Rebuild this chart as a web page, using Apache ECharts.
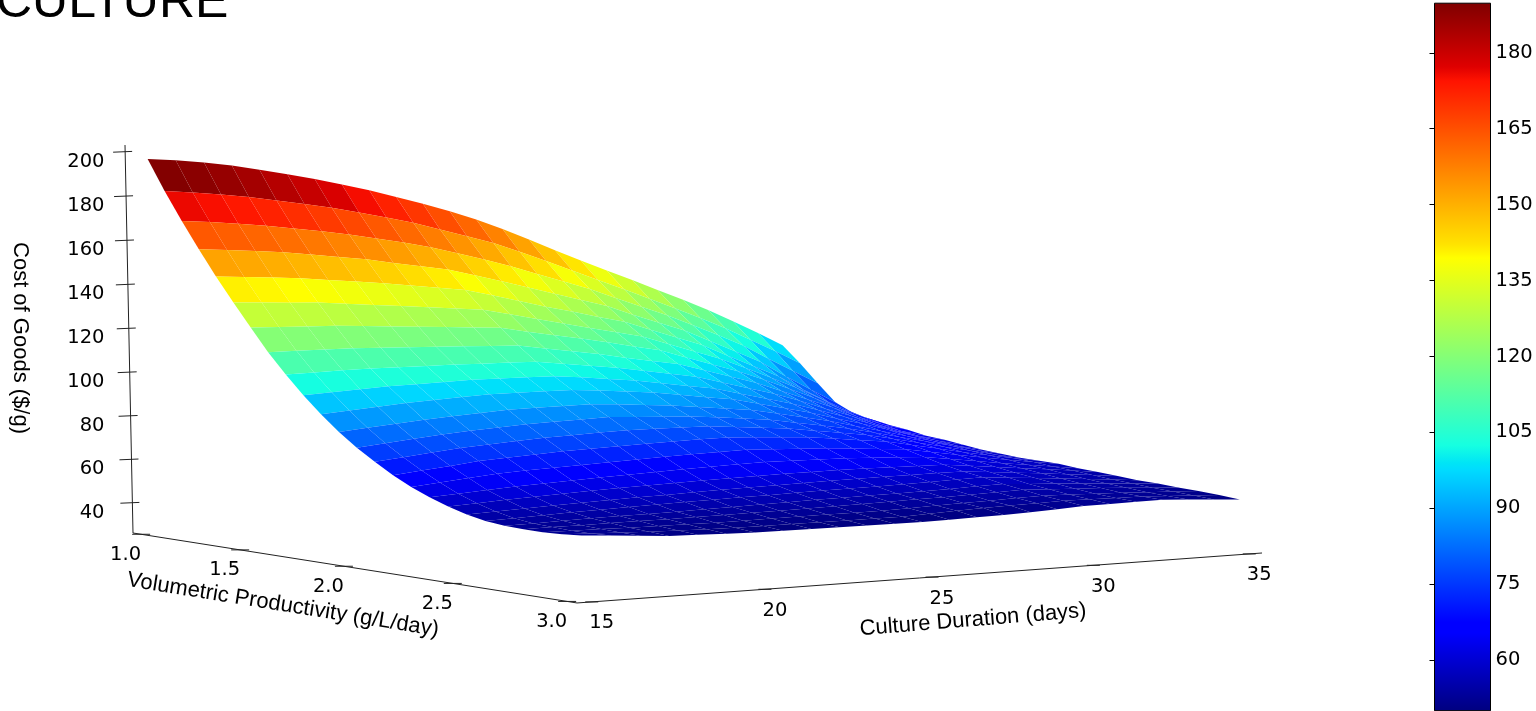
<!DOCTYPE html>
<html><head><meta charset="utf-8">
<style>html,body{margin:0;padding:0;background:#fff;overflow:hidden}#c{width:1536px;height:711px}</style>
<script src="https://cdn.jsdelivr.net/npm/echarts@6/dist/echarts.min.js"></script>
</head><body><div id="c"></div>
<script>
const durations=[15,15.83,16.67,17.5,18.33,19.17,20,20.83,21.67,22.5,23.33,24.17,25,25.83,26.67,27.5,28.33,29.17,30,30.83,31.67,32.5,33.33,34.17,35];
const productivities=[1,1.083,1.167,1.25,1.333,1.417,1.5,1.583,1.667,1.75,1.833,1.917,2,2.083,2.167,2.25,2.333,2.417,2.5,2.583,2.667,2.75,2.833,2.917,3];
const costGrid=[
[196.8,195.9,194.6,192.8,190.6,188.2,185.6,182.8,179.7,176.3,172.7,168.8,164.6,159.8,154.4,148.9,143.6,138.4,133.4,128.1,122.9,117.5,111.5,105.2,98.7],
[182.9,181.9,180.6,179.1,177.1,175.1,173.1,170.5,167.8,165,161.4,157.9,154.3,149.7,144.9,140,135.1,130.2,125.2,120.1,114.9,109.5,103.4,97.2,90.8],
[170.1,169.2,168,166.7,165,163.3,161.4,159.2,156.9,154.3,151.1,147.7,144.1,140,136,132,127.3,122.7,118.1,112.9,107.6,102,95.2,88.6,82],
[158.1,157.3,156.4,155.4,153.9,152.3,150.8,148.7,146.7,144.7,141.6,138.3,135,131.6,128.1,124.8,120.2,115.9,111.6,106.1,100.5,95,87.5,80.5,73.8],
[146.6,145.9,145.1,144.3,143.1,141.9,140.6,139.1,137.5,136,133.1,130,126.8,124.1,121,118.2,113.9,109.7,105.6,100,94.5,89,82,75.5,69.5],
[135.7,135.2,134.6,134.1,133.1,132,131,129.9,128.8,127.7,125.2,122.4,119.8,117.2,114.7,112.1,108.1,104,100,95,89.8,84.5,78.5,72.5,67.1],
[125.3,125,124.7,124.5,123.8,123.1,122.4,121.7,121,120.3,117.9,115.8,113.7,111.4,108.9,106.6,102.6,98.8,95,90.5,85.5,80.5,75,70,65.7],
[115.2,115.2,115.2,115.2,114.9,114.5,114.2,113.8,113.4,113,111.1,109.3,107.4,105.1,103,101,97.5,94,90.5,86,81.5,77,72,67.5,64.4],
[106.2,106.5,106.8,107,107,107,107,106.8,106.7,106.5,105,103.5,102,100,98,96,92.8,89.5,86.3,82.3,78,74,69.5,65.5,62.5],
[97.9,98.6,99.3,100,100.3,100.7,101,101,100.9,100.8,99.7,98.3,97,95.2,93.3,91.5,88.5,85.5,82.5,79,75.3,71.5,67.5,64,61.6],
[90.5,91.5,92.5,93.5,94.2,94.9,95.5,95.5,95.5,95.5,94.6,93.5,92.5,90.8,89,87.5,84.8,82,79.3,76,72.8,69.5,66,62.8,60.3],
[83.6,84.8,85.9,87,87.9,88.7,89.5,89.7,89.9,90,89.3,88.4,87.5,86.2,84.8,83.5,81.2,78.8,76.5,73.5,70.5,67.5,64.5,61.5,58.9],
[77.7,79,80.3,81.5,82.4,83.2,84,84.4,84.8,85.2,84.6,84,83.5,82.4,81.2,80,78,76,74,71.4,68.7,66,63.3,60.5,58.1],
[72.6,73.9,75.2,76.5,77.4,78.2,79,79.4,79.9,80.3,80.2,80.1,80,79,78,77,75.3,73.7,72,69.5,67,64.5,62,59.5,57.2],
[67.8,69.1,70.4,71.8,72.5,73.3,74,74.4,74.8,75.2,75.5,75.8,76,75.4,74.7,74,72.7,71.3,70,67.7,65.4,63,60.8,58.7,56.9],
[63.8,65,66.2,67.3,68,68.5,69,69.5,70,70.5,70.9,71.2,71.5,71,70.5,70,69.2,68.3,67.5,65.5,63.5,61.5,59.8,58,56.5],
[60.4,61.2,62,62.8,63.4,63.9,64.5,65,65.5,66,66.3,66.7,67,66.8,66.7,66.5,66,65.5,65,63.3,61.7,60,58.5,57,55.5],
[57.5,58.2,58.9,59.5,60,60.5,61,61.3,61.7,62,62.3,62.5,62.8,62.9,63,63,62.8,62.7,62.5,61.3,60,58.7,57.5,56.2,54.8],
[55.2,55.7,56.2,56.8,57.2,57.6,58,58.3,58.7,59,59.3,59.5,59.8,60,60.2,60.3,60.4,60.5,60.5,59.5,58.5,57.5,56.3,55.2,54],
[53.6,54,54.5,55,55.3,55.7,56,56.3,56.5,56.8,57,57.3,57.5,57.7,57.8,58,58.3,58.7,59,58,57.1,56.2,55.2,54.2,53.2],
[52.7,52.9,53.2,53.5,53.7,53.8,54,54.3,54.5,54.8,55,55.3,55.5,55.7,55.8,56,56.3,56.7,57,56.3,55.7,55,54.3,53.5,52.7],
[52.4,52.5,52.5,52.6,52.7,52.7,52.8,52.9,53.1,53.2,53.4,53.6,53.8,54,54.3,54.5,54.8,55.2,55.5,55,54.5,54,53.4,52.7,52],
[52.3,52.1,52,51.8,51.7,51.6,51.5,51.6,51.7,51.8,51.9,51.9,52,52.3,52.7,53,53.3,53.7,54,53.7,53.3,53,52.5,52,51.5],
[52.6,52.1,51.7,51.2,51,50.7,50.5,50.5,50.5,50.5,50.5,50.5,50.5,51,51.5,52,52.3,52.5,52.8,52.7,52.5,52.4,51.9,51.4,50.8],
[53.3,52.4,51.5,50.6,50.3,49.9,49.6,49.6,49.5,49.5,49.4,49.4,49.3,49.5,49.8,50,50.5,51,51.6,51.8,52,52.1,51.4,50.7,49.9]
];
const durationTicks=[15,20,25,30,35];
const productivityTicks=[1,1.5,2,2.5,3];
const costTicks=[40,60,80,100,120,140,160,180,200];
const colorbarTicks=[60,75,90,105,120,135,150,165,180];
const colorMin=50, colorMax=189.8;
const durationRange=[14.583,35.417], productivityRange=[0.958,3.042], costRange=[26,203];

// jet colour map
const jetStops=[[0,0,0,128],[.11,0,0,255],[.125,0,0,255],[.34,0,219,255],[.35,0,229,246],[.375,22,255,225],[.64,255,255,0],[.65,255,240,0],[.66,255,226,0],[.89,255,19,0],[.91,223,0,0],[1,128,0,0]];
const rgb=a=>`rgb(${a[0]|0},${a[1]|0},${a[2]|0})`;
function jet(f){f=Math.max(0,Math.min(1,f));
  for(let k=1;k<jetStops.length;k++){const A=jetStops[k-1],B=jetStops[k];
    if(f<=B[0]){const u=(f-A[0])/(B[0]-A[0]);return rgb([A[1]+(B[1]-A[1])*u,A[2]+(B[2]-A[2])*u,A[3]+(B[3]-A[3])*u]);}}
  return 'rgb(128,0,0)';}

// perspective camera of the 3-D box
const cam={xs:706.5,xt:389.2,xr:-9.75,x0:133, ys:-7.3,yt:12.7,yr:-390,y0:533, ws:.0686,wt:-.095,wr:-.014};
function project(d,p,z){
  const s=(d-durationRange[0])/(durationRange[1]-durationRange[0]);
  const t=(p-productivityRange[0])/(productivityRange[1]-productivityRange[0]);
  const r=(z-costRange[0])/(costRange[1]-costRange[0]);
  const w=1+cam.ws*s+cam.wt*t+cam.wr*r;
  return [(cam.x0+cam.xs*s+cam.xt*t+cam.xr*r)/w,(cam.y0+cam.ys*s+cam.yt*t+cam.yr*r)/w];
}

// facets, far to near
const cells=[];
for(let i=0;i<productivities.length-1;i++)for(let j=durations.length-2;j>=0;j--)cells.push([i,j]);

const INK='#222';
const segs=[];
const dMin=durationRange[0],dMax=durationRange[1],pMin=productivityRange[0],pMax=productivityRange[1],zMin=costRange[0],zMax=costRange[1];
segs.push([project(dMin,pMin,zMin),project(dMin,pMin,zMax)]);
segs.push([project(dMin,pMin,zMin),project(dMin,pMax,zMin)]);
segs.push([project(dMin,pMax,zMin),project(dMax,pMax,zMin)]);
const labels=[];
const font='19.5px "DejaVu Sans"', labFont='22px "Liberation Sans"';
costTicks.forEach(v=>{const q=project(dMin,pMin,v+.0);
  segs.push([[q[0]-12,q[1]+.5],[q[0]+7,q[1]-.3]]);
  labels.push({text:String(v),x:104.5,y:q[1]+10,align:'right',font});});
productivityTicks.forEach(v=>{const q=project(dMin,v,zMin);
  segs.push([[q[0]-9,q[1]],[q[0]+9,q[1]]]);
  labels.push({text:v.toFixed(1),x:q[0]-15.5,y:q[1]+20.5,align:'center',font});});
durationTicks.forEach(v=>{const q=project(v,pMax,zMin);
  segs.push([[q[0]-6.5,q[1]],[q[0]+6.5,q[1]]]);
  labels.push({text:String(v),x:q[0]+10,y:q[1]+21.5,align:'center',font});});
labels.push({text:'Cost of Goods ($/g)',x:20,y:338,align:'center',font:labFont,rotation:-Math.PI/2});
labels.push({text:'Volumetric Productivity (g/L/day)',x:283,y:605,align:'center',font:labFont,rotation:-0.16});
labels.push({text:'Culture Duration (days)',x:973,y:620,align:'center',font:labFont,rotation:0.082});

const chart=echarts.init(document.getElementById('c'),null,{renderer:'canvas'});
chart.setOption({
  animation:false,backgroundColor:'#fff',
  title:{text:'CULTURE',left:-4,top:-21.5,padding:0,textStyle:{fontFamily:'Liberation Sans',fontWeight:'normal',fontSize:50,color:'#000'}},
  grid:[{left:0,top:0,width:1536,height:711,show:false},{left:1434.5,top:3.2,width:56,height:707.5,show:true,borderColor:'#000',borderWidth:1,backgroundColor:'transparent',z:5}],
  xAxis:[{type:'value',min:0,max:1536,show:false,gridIndex:0},{type:'value',min:0,max:1,show:false,gridIndex:1}],
  yAxis:[{type:'value',min:0,max:711,inverse:true,show:false,gridIndex:0},
    {type:'value',gridIndex:1,min:colorMin,max:colorMax,position:'right',splitLine:{show:false},axisLine:{show:false},
     axisTick:{show:true,inside:true,length:5,customValues:colorbarTicks,lineStyle:{color:'#000',width:1}},
     axisLabel:{show:true,margin:5,customValues:colorbarTicks,color:'#000',fontFamily:'DejaVu Sans',fontSize:19.5}}],
  series:[
   {type:'custom',xAxisIndex:0,yAxisIndex:0,silent:true,clip:false,progressive:0,data:cells,z:2,
    renderItem(params,api){
      const i=api.value(0),j=api.value(1);
      const c=[[i,j],[i,j+1],[i+1,j+1],[i+1,j]];
      let m=0;const pts=c.map(a=>{const v=costGrid[a[0]][a[1]];m+=v/4;return api.coord(project(durations[a[1]],productivities[a[0]],v));});
      return {type:'polygon',shape:{points:pts},style:{fill:jet((m-colorMin)/(colorMax-colorMin))}};
    }},
   {type:'custom',xAxisIndex:0,yAxisIndex:0,silent:true,clip:false,data:segs.map((s,k)=>[k]),z:3,
    renderItem(params,api){const s=segs[api.value(0)];const a=api.coord(s[0]),b=api.coord(s[1]);
      return {type:'line',shape:{x1:a[0],y1:a[1],x2:b[0],y2:b[1]},style:{stroke:INK,lineWidth:1}};}},
   {type:'custom',xAxisIndex:0,yAxisIndex:0,silent:true,clip:false,data:labels.map((s,k)=>[k]),z:4,
    renderItem(params,api){const L=labels[api.value(0)];const a=api.coord([L.x,L.y]);
      return {type:'text',x:a[0],y:a[1],rotation:L.rotation||0,style:{text:L.text,x:0,y:0,align:L.align,verticalAlign:'middle',font:L.font,fill:'#000'}};}},
   {type:'custom',xAxisIndex:1,yAxisIndex:1,silent:true,clip:false,data:[[0,colorMin,1,colorMax]],z:1,
    renderItem(params,api){const a=api.coord([api.value(0),api.value(3)]),b=api.coord([api.value(2),api.value(1)]);
      const stops=jetStops.map(s=>({offset:s[0],color:rgb(s.slice(1))}));
      return {type:'rect',shape:{x:a[0],y:a[1],width:b[0]-a[0],height:b[1]-a[1]},
        style:{fill:new echarts.graphic.LinearGradient(0,1,0,0,stops)}};}}
  ]
});
</script></body></html>
